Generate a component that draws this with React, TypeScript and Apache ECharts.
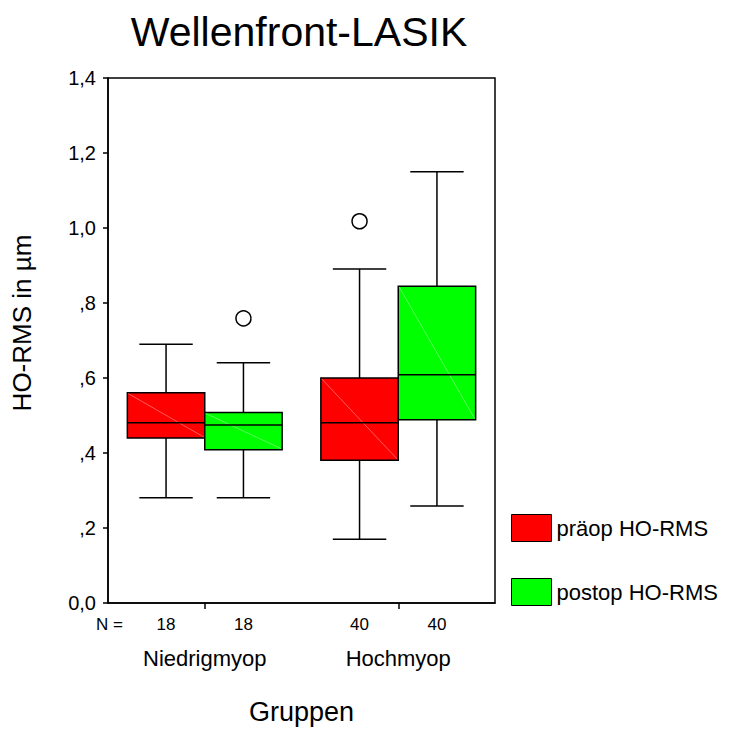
import React, { useEffect, useRef } from "react";
import * as echarts from "echarts";

const categories = ["Niedrigmyop", "Hochmyop"];
const seriesNames = ["präop HO-RMS", "postop HO-RMS"];
// [min, q1, median, q3, max] per category
const praeopStats = [
  [0.281, 0.44, 0.481, 0.561, 0.69],
  [0.17, 0.381, 0.481, 0.6, 0.891],
];
const postopStats = [
  [0.281, 0.409, 0.475, 0.508, 0.641],
  [0.259, 0.489, 0.609, 0.845, 1.15],
];
// [categoryIndex, value]
const praeopOutliers = [[1, 1.018]];
const postopOutliers = [[0, 0.759]];
const praeopN = [18, 40];
const postopN = [18, 40];
const yTickLabels = ["0,0", ",2", ",4", ",6", ",8", "1,0", "1,2", "1,4"];

const FONT = '"Liberation Sans", Arial, Helvetica, sans-serif';
const RED = "#ff0000";
const GREEN = "#00ff00";

function textStyle(text: string, size: number, align: string) {
  return {
    text,
    fill: "#000",
    fontSize: size,
    fontFamily: FONT,
    font: `${size}px ${FONT}`,
    align,
    textAlign: align,
    verticalAlign: "middle",
    textVerticalAlign: "middle",
  };
}

function makeBoxRenderer(offset: number, fill: string, diag: string) {
  return (params: any, api: any) => {
    const cat = api.value(0);
    const mn = api.value(1);
    const q1 = api.value(2);
    const md = api.value(3);
    const q3 = api.value(4);
    const mx = api.value(5);
    const n = api.value(6);
    const band = api.size([1, 0])[0];
    const base = api.coord([cat, 0]);
    const cx = base[0] + offset * band;
    const bw = band * 0.4;
    const cw = band * 0.276;
    const y = (v: number) => api.coord([cat, v])[1];
    const x0 = cx - bw / 2;
    const x1 = cx + bw / 2;
    const ls = { stroke: "#000", lineWidth: 1.5 };
    return {
      type: "group",
      children: [
        { type: "line", shape: { x1: cx, y1: y(mx), x2: cx, y2: y(q3) }, style: ls },
        { type: "line", shape: { x1: cx, y1: y(q1), x2: cx, y2: y(mn) }, style: ls },
        { type: "line", shape: { x1: cx - cw / 2, y1: y(mx), x2: cx + cw / 2, y2: y(mx) }, style: ls },
        { type: "line", shape: { x1: cx - cw / 2, y1: y(mn), x2: cx + cw / 2, y2: y(mn) }, style: ls },
        {
          type: "rect",
          shape: { x: x0, y: y(q3), width: bw, height: y(q1) - y(q3) },
          style: { fill, stroke: "#000", lineWidth: 1.5 },
        },
        { type: "line", shape: { x1: x0 + 1, y1: y(q3) + 1, x2: x1 - 1, y2: y(q1) - 1 }, style: { stroke: diag, lineWidth: 0.6 } },
        { type: "line", shape: { x1: x0, y1: y(md), x2: x1, y2: y(md) }, style: ls },
        { type: "text", x: cx, y: base[1] + 21, style: textStyle(String(n), 17, "center") },
      ],
    };
  };
}

function makeOutlierRenderer(offset: number) {
  return (params: any, api: any) => {
    const band = api.size([1, 0])[0];
    const p = api.coord([api.value(0), api.value(1)]);
    return {
      type: "circle",
      shape: { cx: p[0] + offset * band, cy: p[1], r: 7.5 },
      style: { fill: "#fff", stroke: "#000", lineWidth: 1.5 },
    };
  };
}

export default function App() {
  const ref = useRef<HTMLDivElement>(null);
  useEffect(() => {
    if (!ref.current) return;
    const chart = echarts.init(ref.current, undefined, { renderer: "svg" });
    chart.setOption({
      animation: false,
      backgroundColor: "#fff",
      title: {
        text: "Wellenfront-LASIK",
        left: 299,
        top: 11,
        textAlign: "center",
        padding: 0,
        textStyle: { fontSize: 41, fontWeight: "normal", color: "#000", fontFamily: FONT },
      },
      legend: {
        data: [
          { name: seriesNames[0], icon: "rect" },
          { name: seriesNames[1], icon: "rect" },
        ],
        orient: "vertical",
        left: 511,
        top: 514,
        padding: 0,
        itemWidth: 40,
        itemHeight: 27,
        itemGap: 36,
        selectedMode: false,
        itemStyle: { borderColor: "#000", borderWidth: 1 },
        textStyle: { fontSize: 22, color: "#000", fontFamily: FONT },
      },
      grid: {
        left: 108,
        top: 78,
        right: 238,
        bottom: 148,
        show: true,
        borderColor: "#000",
        borderWidth: 1.5,
        backgroundColor: "transparent",
      },
      xAxis: {
        type: "category",
        data: categories,
        name: "Gruppen",
        nameLocation: "middle",
        nameGap: 95,
        nameTextStyle: { fontSize: 27, color: "#000", fontFamily: FONT },
        axisLine: { lineStyle: { color: "#000", width: 1.5 } },
        axisTick: { show: true, alignWithLabel: true, length: 6, lineStyle: { color: "#000", width: 1.5 } },
        axisLabel: { margin: 44, fontSize: 22, color: "#000", fontFamily: FONT },
        splitLine: { show: false },
      },
      yAxis: {
        type: "value",
        min: 0,
        max: 1.4,
        interval: 0.2,
        axisLine: { show: true, lineStyle: { color: "#000", width: 1.5 } },
        axisTick: { show: true, length: 5, lineStyle: { color: "#000", width: 1.5 } },
        axisLabel: {
          margin: 12,
          fontSize: 20,
          color: "#000",
          fontFamily: FONT,
          formatter: (v: number) => yTickLabels[Math.round(v / 0.2)] ?? "",
        },
        splitLine: { show: false },
      },
      graphic: [
        {
          type: "text",
          x: 123,
          y: 624,
          style: textStyle("N =", 17, "right"),
        },
        {
          type: "text",
          x: 22,
          y: 323,
          rotation: Math.PI / 2,
          style: textStyle("HO-RMS in µm", 26, "center"),
        },
      ],
      series: [
        {
          type: "custom",
          name: seriesNames[0],
          renderItem: makeBoxRenderer(-0.2, RED, "#ff9a9a"),
          data: praeopStats.map((s, i) => [i, ...s, praeopN[i]]),
          encode: { x: 0, y: [1, 2, 3, 4, 5] },
          itemStyle: { color: RED },
          z: 2,
        },
        {
          type: "custom",
          name: seriesNames[1],
          renderItem: makeBoxRenderer(0.2, GREEN, "#9aff9a"),
          data: postopStats.map((s, i) => [i, ...s, postopN[i]]),
          encode: { x: 0, y: [1, 2, 3, 4, 5] },
          itemStyle: { color: GREEN },
          z: 2,
        },
        {
          type: "custom",
          name: "praeop-outliers",
          renderItem: makeOutlierRenderer(-0.2),
          data: praeopOutliers,
          encode: { x: 0, y: 1 },
          z: 3,
        },
        {
          type: "custom",
          name: "postop-outliers",
          renderItem: makeOutlierRenderer(0.2),
          data: postopOutliers,
          encode: { x: 0, y: 1 },
          z: 3,
        },
      ],
    });
    return () => chart.dispose();
  }, []);
  return <div ref={ref} style={{ width: 733, height: 751, position: "absolute", left: 0, top: 0 }} />;
}
